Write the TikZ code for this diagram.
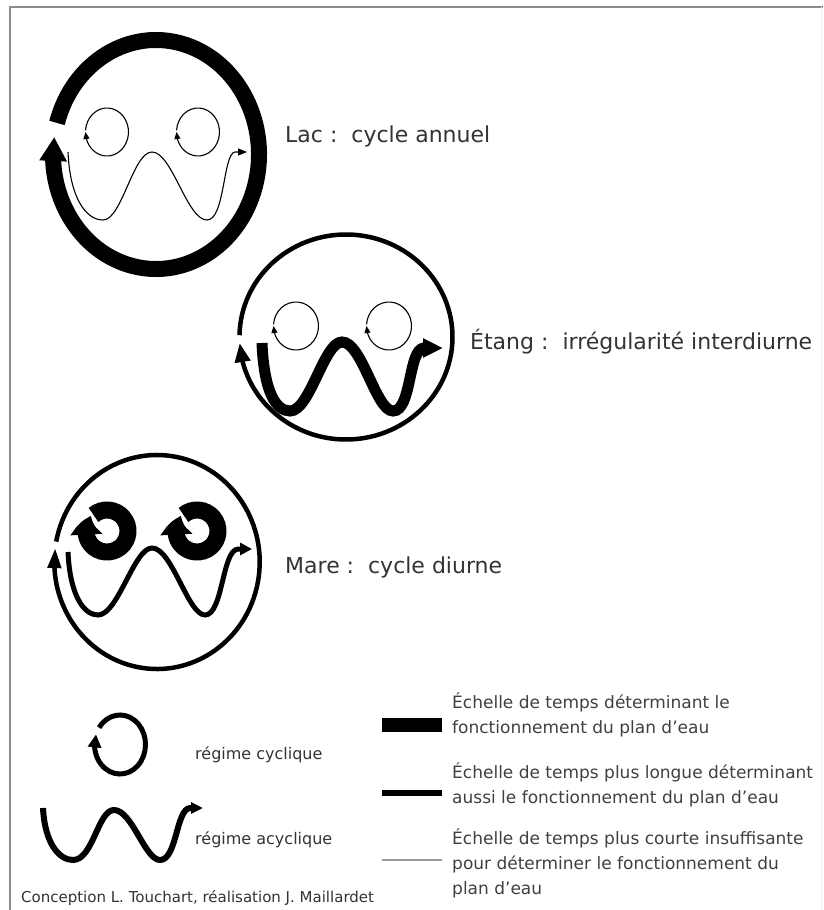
\documentclass[tikz,border=0pt]{standalone}
\usepackage{fontspec}
\setmainfont{DejaVu Sans}
\usetikzlibrary{arrows.meta,bending}

\begin{document}
\begin{tikzpicture}[
   x=1pt,y=-1pt,
   fin/.style={line width=1.1pt},
   moyen/.style={line width=4.5pt},
   fort/.style={line width=15pt},
   titre/.style={anchor=base west,inner sep=0pt,text=black!80,
                 font=\fontsize{22}{26}\selectfont},
   petit/.style={anchor=west,inner sep=0pt,text=black!80,
                 font=\fontsize{16}{19}\selectfont},
   legende/.style={anchor=west,inner sep=0pt,align=left,text=black!75,
                   font=\fontsize{17}{25}\selectfont},
   cadre/.style={draw=black!45,line width=2.5pt}
 ]
  \useasboundingbox (0,0) rectangle (823,910);
  \draw[cadre] (10,910) -- (10,7) -- (823,7);
  \draw[black!6,line width=1pt] (821,7) -- (821,910);

  % lac
  \coordinate (lac) at (156,154.5);
  \draw[fort,line width=16pt,-{Triangle[length=24pt,width=26pt]}]
    (lac) ++(196:103 and 114.5) arc[start angle=196,end angle=548.8,x radius=103,y radius=114.5];
  \foreach \cx in {107,198}
    \draw[fin,-{Triangle[length=7pt,width=6pt]}]
      (\cx,132) ++(184:21.5 and 24) arc[start angle=184,end angle=540,x radius=21.5,y radius=24];
  \draw[fin,-{Triangle[length=9pt,width=7pt]}]
    (68,152) .. controls (70,198) and (86,220) .. (103,220)
    .. controls (122,220) and (133,152) .. (152,152)
    .. controls (172,152) and (187,220) .. (207,220)
    .. controls (225,220) and (223,153) .. (235,152) -- (247,152);
  \node[titre] (lbl-lac) at (285,142) {Lac :~~cycle annuel};

  % etang
  \coordinate (etang) at (346,337);
  \draw[moyen,-{Triangle[length=19pt,width=15pt]}]
    (etang) ++(181:106.5 and 102.5) arc[start angle=181,end angle=536.6,x radius=106.5,y radius=102.5];
  \foreach \cx in {296,389}
    \draw[fin,-{Triangle[length=7pt,width=6pt]}]
      (\cx,326) ++(184:22.5 and 24) arc[start angle=184,end angle=540,x radius=22.5,y radius=24];
  \draw[fort,line width=11pt,-{Triangle[length=20pt,width=18pt]}]
    (262,343) .. controls (264,392) and (276,411) .. (290,411)
    .. controls (310,411) and (324,342) .. (342,342)
    .. controls (362,342) and (376,411) .. (393,411)
    .. controls (412,411) and (408,349) .. (424,348) -- (443,348);
  \node[titre] (lbl-etang) at (470,349) {Étang :~~irrégularité interdiurne};

  % mare
  \coordinate (mare) at (157,562);
  \draw[moyen,-{Triangle[length=20pt,width=13pt]}]
    (mare) ++(191:102.7 and 107) arc[start angle=191,end angle=547.5,x radius=102.7,y radius=107];
  \foreach \cx in {107,197}
    \draw[fort,line width=17pt,-{Triangle[length=20pt,width=30pt,bend]}]
      (\cx,531) ++(230:21 and 21) arc[start angle=230,end angle=584,radius=21];
  \draw[moyen,line width=5pt,-{Triangle[length=12pt,width=12pt]}]
    (68,552) .. controls (70,596) and (84,615) .. (98,615)
    .. controls (118,615) and (134,548) .. (152,548)
    .. controls (172,548) and (188,615) .. (205,615)
    .. controls (223,615) and (222,550) .. (238,549) -- (252,549);
  \node[titre] (lbl-mare) at (285,573) {Mare :~~cycle diurne};

  % legende
  \draw[moyen,line width=5pt,-{Triangle[length=13pt,width=13pt]}]
    (120,744.5) ++(215:25.5 and 29.5) arc[start angle=215,end angle=560,x radius=25.5,y radius=29.5];
  \node[petit] (lbl-cyc) at (195,755) {régime cyclique};
  \draw[moyen,line width=6pt,-{Triangle[length=12pt,width=11pt]}]
    (43,808) .. controls (45,845) and (60,860) .. (73,860)
    .. controls (93,860) and (98,810) .. (114,810)
    .. controls (132,810) and (145,860) .. (160,860)
    .. controls (177,860) and (176,809) .. (190,808) -- (203,808);
  \node[petit] (lbl-acyc) at (195,840) {régime acyclique};
  \node[petit,font=\fontsize{15}{18}\selectfont] (credit) at (21,898)
    {Conception L. Touchart, réalisation J. Maillardet};

  \draw[line width=14pt] (382,725) -- (442,725);
  \draw[line width=6pt] (382,793) -- (442,793);
  \draw[line width=1.5pt,black!40] (382,860) -- (442,860);
  \node[legende] (leg-fort) at (452,715)
    {Échelle de temps déterminant le\\fonctionnement du plan d'eau};
  \node[legende] (leg-moyen) at (452,785)
    {Échelle de temps plus longue déterminant\\aussi le fonctionnement du plan d'eau};
  \node[legende] (leg-fin) at (452,863)
    {Échelle de temps plus courte insuffisante\\pour déterminer le fonctionnement du\\plan d'eau};
 \end{tikzpicture}
\end{document}
